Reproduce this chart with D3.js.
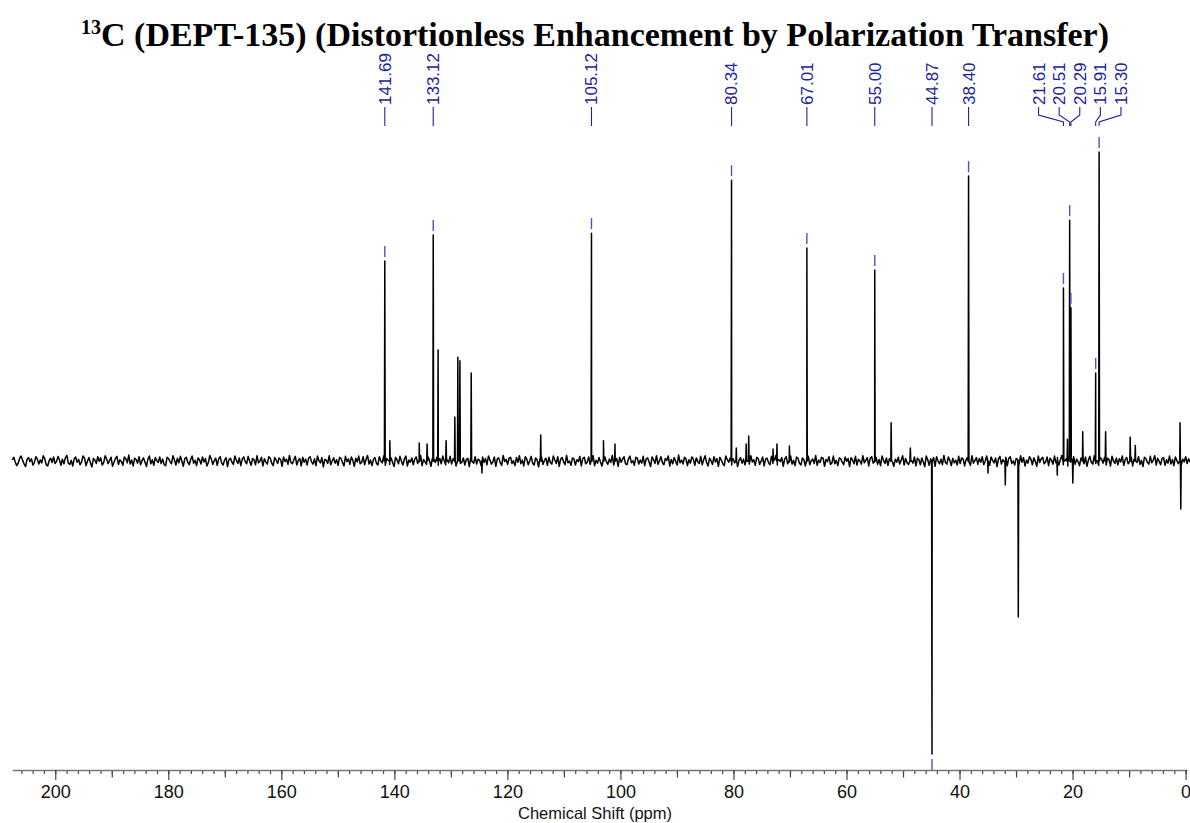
<!DOCTYPE html>
<html><head><meta charset="utf-8">
<script src="https://cdn.jsdelivr.net/npm/d3@7/dist/d3.min.js"></script>
<style>body{margin:0;background:#fff;}svg{display:block;}</style>
</head><body>
<svg id="chart" width="1190" height="823"></svg>
<script>
// ---------- data ----------
const titleMain = "C (DEPT-135) (Distortionless Enhancement by Polarization Transfer)";
const titleSup = "13";
const axisTitle = "Chemical Shift (ppm)";
const majorTicks = [200, 180, 160, 140, 120, 100, 80, 60, 40, 20, 0];
const mediumTicks = [190, 170, 150, 130, 110, 90, 70, 50, 30, 10];

// peak positions (ppm) and intensities (tallest = 100)
const peakPpm = [141.69, 140.8, 135.6, 134.2, 133.12, 132.26, 130.84, 129.3, 128.77, 128.4, 126.4, 124.5,
  114.1, 105.12, 103.0, 100.96, 80.34, 79.5, 77.75, 77.3, 73.0, 72.3, 70.1, 67.01, 55.00, 52.1, 48.7,
  44.87, 38.40, 34.95, 31.9, 29.6, 22.7, 21.61, 20.9, 20.51, 20.29, 19.95, 18.2, 15.91, 15.30, 14.15,
  9.8, 8.9, 0.98, 0.85];
const peakHeight = [64.5, 6.5, 5.8, 5.5, 72.9, 35.8, 6.5, 14.2, 33.5, 32.3, 28.4, -3.9,
  8.4, 73.5, 6.5, 5.5, 90.6, 4.2, 5.5, 8.1, 3.9, 5.5, 4.8, 68.7, 61.6, 12.3, 4.2,
  -94.5, 91.9, -3.9, -7.7, -50.3, -4.5, 55.8, 7.0, 77.7, 49.4, -7.1, 9.4, 28.4, 99.7, 9.4,
  7.7, 5.0, 12.3, -15.5];

// annotated peaks
const labelPpm = [141.69, 133.12, 105.12, 80.34, 67.01, 55.00, 44.87, 38.40, 21.61, 20.51, 20.29, 15.91, 15.30];

// baseline noise samples, evenly spaced from noiseFrom to noiseTo (ppm)
const noiseFrom = 207.6, noiseTo = -0.8;
const noise = [
 0.4,1.2,-0.3,-1.5,-0.7,0.9,1.6,0.2,-0.9,-1.8,0.5,1.1,-0.2,0.7,-1.3,-0.4,1.4,0.6,-1.0,0.3,
 -0.6,1.7,0.8,-1.2,-1.6,0.1,0.9,-0.5,1.3,-0.8,-0.2,1.5,0.4,-1.4,0.6,-0.9,1.0,1.8,-0.7,-1.1,
 0.2,-1.6,0.7,1.3,-0.4,0.5,-1.2,-0.3,1.6,0.9,-1.5,0.0,1.1,-0.6,-1.9,0.8,0.3,-0.8,1.4,-0.1,
 1.0,-1.3,-0.5,1.7,0.6,-0.9,0.2,1.2,-1.7,-0.4,0.8,1.5,-1.1,0.4,-0.2,-1.4,1.3,0.7,-0.6,1.9,
 -1.0,0.3,-1.6,0.9,0.5,-0.7,1.4,-1.2,0.1,1.0,-0.3,-1.8,0.6,1.6,-0.9,0.4,-1.4,1.1,0.2,-0.5,
 1.3,-0.8,0.6,-1.1,-1.5,1.2,0.8,-0.2,-0.9,1.7,0.3,-1.3,0.9,-0.6,1.5,0.0,-1.7,0.7,1.2,-0.4,
 -1.2,0.5,1.6,-0.7,0.2,-1.5,1.0,0.4,-1.0,1.3,-0.3,0.8,-1.6,-0.5,1.8,0.6,-1.1,0.1,0.9,-1.4,
 0.7,1.4,-0.6,-1.3,0.3,1.1,-1.8,0.5,0.9,-0.4,-1.1,1.6,0.2,-0.8,1.0,-1.5,0.6,1.3,-0.2,-0.9,
 1.5,-0.1,-1.4,0.8,0.4,-1.2,1.7,-0.6,0.0,1.2,-1.6,0.7,-0.3,-1.0,1.4,0.9,-0.7,-1.5,1.1,0.3,
 -0.8,1.0,0.5,-1.7,1.3,-0.2,0.6,-1.1,1.8,-0.5,-0.9,0.4,1.5,-1.3,0.2,0.8,-1.6,1.2,-0.4,0.6,
 -1.3,0.9,1.4,-0.3,-1.0,0.7,-1.5,1.6,0.1,-0.6,1.1,-1.9,0.5,0.3,-0.8,1.7,-1.2,0.0,1.0,-0.7,
 0.4,-1.4,1.2,0.8,-0.5,-1.6,1.5,-0.2,0.7,-1.1,1.3,0.2,-1.7,0.9,-0.3,1.6,-0.9,-0.4,1.4,-1.2,
 0.6,1.8,-1.0,0.3,-1.5,0.5,1.1,-0.7,-1.3,1.4,0.0,-0.6,1.7,-1.4,0.8,0.2,-1.1,1.0,-0.5,-1.8,
 1.2,0.4,-0.9,1.5,-0.1,-1.3,0.7,1.6,-1.6,0.3,-0.4,1.0,-1.2,0.6,1.3,-0.8,-0.2,1.8,-1.5,0.5,
 -0.3,-1.1,1.4,0.2,-1.7,0.9,0.6,-0.5,1.2,-1.4,0.8,-0.9,1.6,0.1,-1.2,0.4,-0.6,1.5,-1.0,0.7,
 1.1,-1.6,0.3,1.7,-0.8,-0.4,1.0,-1.3,0.5,0.9,-1.8,1.2,-0.1,-0.7,1.4,-1.0,0.6,0.2,-1.5,1.3,
 -0.5,0.8,-1.2,1.6,0.4,-1.0,-0.3,1.3,-1.7,0.7,1.0,-0.6,-1.4,1.8,-0.2,0.5,-1.1,0.9,1.2,-0.8,
 0.1,-1.5,1.1,-0.4,1.7,-0.9,0.3,-1.6,1.4,0.6,-1.2,0.0,1.5,-0.7,-1.3,1.0,0.4,-1.9,0.8,1.3,
 -1.1,0.2,0.9,-1.4,1.2,-0.5,-1.0,1.6,0.3,-0.8,1.4,-1.7,0.6,1.1,-0.3,-1.2,1.8,-0.6,0.0,-1.4,
 1.0,0.7,-1.3,0.4,-0.2,1.5,-1.6,0.8,1.2,-0.9,-0.4,1.3,-1.1,0.5,1.7,-1.5,0.2,-0.7,1.1,-0.3,
 -1.6,0.9,1.3,-0.2,-1.1,0.6,-0.5,1.8,-1.3,0.2,0.8,-1.7,1.1,-0.4,0.5,1.4,-0.9,-1.2,0.7,1.6,
 -0.6,0.1,-1.4,1.2,0.9,-1.0,0.3,-0.7,1.5,-1.5,0.6,1.0,-0.3,-1.8,1.3,0.4,-0.8,1.7,-1.1,0.0,
 1.4,-0.5,-1.2,0.8,0.2,1.6,-1.6,0.5,-0.9,1.1,-0.1,-1.3,1.9,-0.6,0.3,-1.0,1.2,0.7,-1.5,0.4,
 -0.7,1.3,0.6,-1.4,1.0,-0.2,-0.8,1.5,-1.2,0.4,1.7,-0.5,-1.6,0.9,0.1,-1.1,1.4,-0.3,0.8,-1.7,
 1.2,0.3,-0.9,-1.5,1.6,0.5,-0.4,1.0,-1.3,0.7,-0.6,1.4,-1.8,0.2,1.1,-0.7,0.6,-1.2,1.5,-0.1,
 -1.0,1.7,-0.3,0.4,-1.4,1.2,0.8,-1.1,0.0,1.3,-1.6,0.6,0.9,-0.5,-1.2,1.5,-0.8,0.3,1.8,-1.3,
 0.5,-0.2,1.1,-1.7,0.7,1.4,-0.9,-0.4,1.6,-1.0,0.2,-1.5,1.3,0.8,-0.7,-1.3,1.0,0.4,-1.6,0.9,
 1.5,-1.2,0.1,0.6,-0.8,1.8,-1.4,0.3,-0.5,1.2,0.9,-1.7,0.5,-0.2,1.4,-1.1,-0.6,1.6,-0.9,0.2,
 -1.5,1.0,0.7,-0.4,-1.2,1.3,-0.1,0.8,-1.8,1.1,0.4,-0.9,1.5,-1.3,0.6,0.0,-1.0,1.7,-0.6,0.3,
 1.1,-1.6,0.9,1.4,-0.7,-0.3,1.2,-1.1,0.5,-1.5,1.6,0.2,-0.8,1.0,-1.4,0.7,1.3,-0.2,-1.7,0.6,
 -0.4,1.2,-1.0,0.3,1.7,-1.3,0.8,-0.6,-1.1,1.5,0.1,-0.7,1.3,-1.6,0.9,0.5,-1.2,1.0,-0.3,-1.8,
 1.6,0.4,-1.4,0.7,-0.2,1.1,-1.7,1.4,0.0,-0.9,0.6,-1.2,1.8,-0.5,-1.0,1.3,0.2,-1.5,0.9,-0.6,
 0.3,-1.3,1.5,-0.8,1.0,0.6,-1.6,0.4,1.2,-0.3,-1.4,1.7,-0.7,0.1,1.1,-1.1,0.8,-0.4,1.4,-1.2,
 -0.1,1.6,-0.9,-1.4,1.3,0.2,-0.6,1.0,-1.8,0.7,1.5,-1.0,0.4,-0.3,1.2,-1.5,0.9,1.4,-0.8,0.0,
 -1.3,0.8,0.5,-1.1,1.7,-0.4,1.1,-1.6,0.3,-0.7,1.4,0.6,-1.2,1.0,-0.2,-1.7,1.6,-0.5,0.7,1.2,
 -0.9,-0.3,1.3,-1.5,0.9,0.2,-1.0,1.6,-0.6,1.1,-1.3,0.4,1.8,-1.2,0.0,0.7,-1.6,1.2,-0.4,0.5,
 1.4,-1.1,0.6,-0.2,-1.5,1.0,0.8,-0.9,1.3,-1.7,0.3,1.5,-0.5,-1.0,1.7,-0.8,0.1,-1.4,1.1,0.6,
 -0.7,1.2,-1.3,0.9,0.4,-1.6,1.5,0.0,-0.8,1.0,-1.2,0.7,-0.3,1.6,-1.4,0.5,1.1,-0.9,-0.2,1.3,
 -1.6,0.6,1.0,-0.5,1.4,-1.1,0.2,-1.8,1.2,0.8,-0.4,-1.0,1.5,-0.6,0.3,1.7,-1.3,0.9,-0.1,-1.2,
 0.8,1.1,-1.4,0.4,-0.7,1.6,-1.0,0.5,-1.5,1.3,0.2,-0.9,1.0,-1.2,0.6,-0.3,1.4,-0.8,0.7,-0.4
];

// ---------- drawing ----------
const svg = d3.select("#chart");
const sans = "'Liberation Sans', Arial, Helvetica, sans-serif";
const labelColor = "#22229a";
const markColor = "#5050c0";

const x = d3.scaleLinear().domain([207.6, -0.25]).range([12.3, 1187]);
const y = d3.scaleLinear().domain([-100, 100]).range([771, 151]);
const axisY = 770;

// title
const title = svg.append("text")
  .attr("x", 595).attr("y", 46)
  .attr("text-anchor", "middle")
  .attr("font-family", "'Liberation Serif', 'Times New Roman', serif")
  .attr("font-weight", "bold").attr("font-size", 34).attr("fill", "#000");
title.append("tspan").attr("font-size", 20).attr("dy", -12).text(titleSup);
title.append("tspan").attr("dy", 12).text(titleMain);

// spectrum
const step = (noiseFrom - noiseTo) / (noise.length - 1);
const pts = noise.map((v, i) => [noiseFrom - i * step, v]);
peakPpm.forEach((p, i) => { pts.push([p + 0.07, 0], [p, peakHeight[i]], [p - 0.07, 0]); });
pts.sort((a, b) => b[0] - a[0]);
const line = d3.line().x(d => x(d[0])).y(d => y(d[1]));
svg.append("path").datum(pts)
  .attr("d", line)
  .attr("fill", "none").attr("stroke", "#000")
  .attr("stroke-width", 1.5).attr("stroke-linejoin", "round");

// axis
const gAxis = svg.append("g").attr("transform", `translate(0,${axisY})`);
const minor = gAxis.append("g").call(d3.axisBottom(x).tickValues(d3.range(0, 207, 2)).tickSize(4).tickFormat(""));
minor.select(".domain").remove();
const med = gAxis.append("g").call(d3.axisBottom(x).tickValues(mediumTicks).tickSize(7.5).tickFormat(""));
med.select(".domain").remove();
const major = gAxis.append("g").call(d3.axisBottom(x).tickValues(majorTicks).tickSize(10).tickSizeOuter(0).tickPadding(5).tickFormat(d3.format("d")));
gAxis.selectAll(".tick line").attr("stroke", "#444").attr("stroke-width", 1.2);
major.select(".domain").attr("stroke", "#777").attr("stroke-width", 1.6);
major.selectAll(".tick text").attr("font-family", sans).attr("font-size", 18).attr("fill", "#111");

svg.append("text").attr("x", 595).attr("y", 819)
  .attr("text-anchor", "middle").attr("font-family", sans).attr("font-size", 16.5)
  .attr("fill", "#111").text(axisTitle);

// peak annotations
const gap = 20.6;
const lab = labelPpm.map(p => {
  let bi = 0;
  peakPpm.forEach((q, i) => { if (Math.abs(q - p) < Math.abs(peakPpm[bi] - p)) bi = i; });
  return { ppm: p, px: x(p), h: peakHeight[bi] };
});
// overlap-free label layout: merge crowded labels into evenly spaced groups
let groups = lab.map((d, i) => ({ members: [i], center: d.px }));
let merged = true;
while (merged) {
  merged = false;
  for (let k = 0; k < groups.length - 1; k++) {
    const a = groups[k], b = groups[k + 1];
    const aEnd = a.center + (a.members.length - 1) * gap / 2;
    const bStart = b.center - (b.members.length - 1) * gap / 2;
    if (bStart - aEnd < gap) {
      const mem = a.members.concat(b.members);
      groups.splice(k, 2, { members: mem, center: d3.mean(mem, i => lab[i].px) });
      merged = true; break;
    }
  }
}
groups.forEach(g => {
  const start = g.center - (g.members.length - 1) * gap / 2;
  g.members.forEach((i, k) => { lab[i].lx = start + k * gap; });
});

const gLab = svg.append("g");
lab.forEach(d => {
  gLab.append("text")
    .attr("transform", `translate(${d.lx},105) rotate(-90)`)
    .attr("dy", "0.35em")
    .attr("font-family", sans).attr("font-size", 17).attr("fill", labelColor)
    .text(d3.format(".2f")(d.ppm));
  const path = Math.abs(d.lx - d.px) < 0.5
    ? `M${d.px},107V126`
    : `M${d.lx},107V115L${d.px},122V126`;
  gLab.append("path").attr("d", path).attr("fill", "none")
    .attr("stroke", labelColor).attr("stroke-width", 1.1);
  // marker near the peak tip
  const yt = y(d.h);
  if (d.h > 0) {
    gLab.append("line").attr("x1", d.px).attr("x2", d.px).attr("y1", yt - 4).attr("y2", yt - 15)
      .attr("stroke", markColor).attr("stroke-width", 1.4);
  } else {
    gLab.append("line").attr("x1", d.px).attr("x2", d.px).attr("y1", yt + 5).attr("y2", axisY)
      .attr("stroke", markColor).attr("stroke-width", 1.4);
  }
});
</script>
</body></html>
